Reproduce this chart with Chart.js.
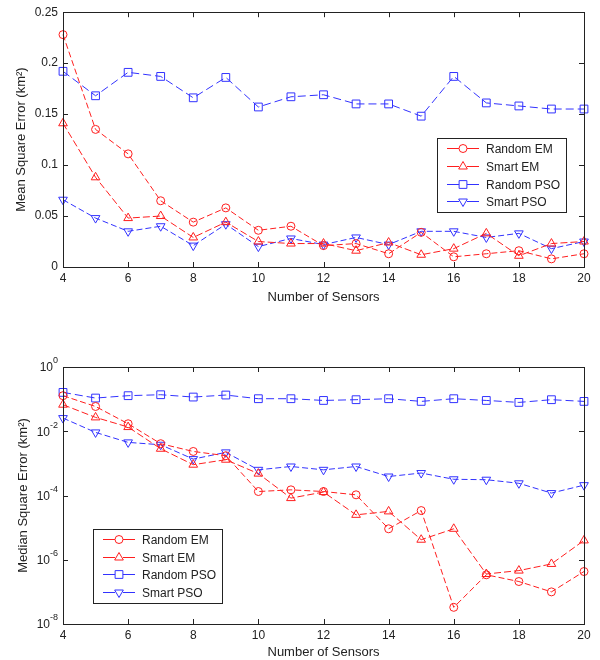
<!DOCTYPE html>
<html>
<head>
<meta charset="utf-8">
<script src="https://cdn.jsdelivr.net/npm/chart.js@4.4.0/dist/chart.umd.min.js"></script>
<style>
  body { margin: 0; background: #fff; }
  #wrap { position: relative; width: 600px; height: 660px; }
  canvas { position: absolute; left: 0; }
</style>
</head>
<body>
<div id="wrap">
  <canvas id="meanChart" width="600" height="305" style="top:0"></canvas>
  <canvas id="medianChart" width="600" height="355" style="top:305px"></canvas>
</div>
<script>
// number of sensors on the x axis
const sensors = [4, 5, 6, 7, 8, 9, 10, 11, 12, 13, 14, 15, 16, 17, 18, 19, 20];
const seriesNames = ['Random EM', 'Smart EM', 'Random PSO', 'Smart PSO'];

// top plot: mean square error (km^2)
const meanRandomEM  = [0.228, 0.135, 0.111, 0.065, 0.044, 0.058, 0.036, 0.040, 0.021, 0.023, 0.013, 0.034, 0.010, 0.013, 0.016, 0.008, 0.013];
const meanSmartEM   = [0.141, 0.088, 0.048, 0.050, 0.029, 0.044, 0.025, 0.023, 0.023, 0.016, 0.024, 0.012, 0.018, 0.033, 0.011, 0.023, 0.025];
const meanRandomPSO = [0.192, 0.168, 0.191, 0.187, 0.166, 0.186, 0.157, 0.167, 0.169, 0.160, 0.160, 0.148, 0.187, 0.161, 0.158, 0.155, 0.155];
const meanSmartPSO  = [0.066, 0.048, 0.035, 0.040, 0.021, 0.042, 0.020, 0.028, 0.022, 0.029, 0.022, 0.035, 0.035, 0.029, 0.033, 0.018, 0.025];

// bottom plot: median square error (km^2), log axis
const medRandomEM  = [0.128, 0.059, 0.0171, 0.0041, 0.00235, 0.00173, 1.33e-4, 1.5e-4, 1.33e-4, 1.05e-4, 9.2e-6, 3.4e-5, 3.3e-8, 3.4e-7, 2.1e-7, 1.0e-7, 4.3e-7];
const medSmartEM   = [0.067, 0.027, 0.0135, 0.00285, 9.1e-4, 1.3e-3, 4.8e-4, 8.3e-5, 1.28e-4, 2.5e-5, 3.2e-5, 4.2e-6, 9.2e-6, 3.6e-7, 4.6e-7, 7.4e-7, 4.0e-6];
const medRandomPSO = [0.162, 0.108, 0.128, 0.137, 0.116, 0.134, 0.103, 0.103, 0.091, 0.096, 0.103, 0.085, 0.103, 0.091, 0.079, 0.096, 0.085];
const medSmartPSO  = [0.0257, 0.0092, 0.0045, 0.0038, 0.00136, 0.0022, 6.3e-4, 8.0e-4, 6.3e-4, 8.0e-4, 3.9e-4, 5.0e-4, 3.2e-4, 3.1e-4, 2.4e-4, 1.19e-4, 2.1e-4];

// tick labels
const xTicks = [4, 6, 8, 10, 12, 14, 16, 18, 20];
const meanTicks = [0, 0.05, 0.1, 0.15, 0.2, 0.25];
const meanTickLabels = ['0', '0.05', '0.1', '0.15', '0.2', '0.25'];
const medianExponents = [0, -2, -4, -6, -8];

const RED = 'rgb(255,30,30)';
const BLUE = 'rgb(50,50,255)';
const FONT = 'Liberation Sans, Arial, sans-serif';
const TEXT = '#222';

const styles = [
  { color: RED,  pointStyle: 'circle',   radius: 4,   rotation: 0,   dash: [6, 3] },
  { color: RED,  pointStyle: 'triangle', radius: 5,   rotation: 0,   dash: [7, 3] },
  { color: BLUE, pointStyle: 'rect',     radius: 5.5, rotation: 0,   dash: [8, 4] },
  { color: BLUE, pointStyle: 'triangle', radius: 5,   rotation: 180, dash: [6, 3] }
];

function makeDatasets(seriesList) {
  return seriesList.map((vals, i) => ({
    label: seriesNames[i],
    data: vals.map((v, k) => ({ x: sensors[k], y: v })),
    borderColor: styles[i].color,
    borderWidth: 1,
    borderDash: styles[i].dash,
    pointStyle: styles[i].pointStyle,
    pointRadius: styles[i].radius,
    pointRotation: styles[i].rotation,
    pointBorderColor: styles[i].color,
    pointBackgroundColor: 'rgba(0,0,0,0)',
    pointBorderWidth: 1,
    tension: 0,
    clip: false
  }));
}

function drawMarker(ctx, st, x, y) {
  if (Chart.helpers && Chart.helpers.drawPoint) {
    Chart.helpers.drawPoint(ctx, { pointStyle: st.pointStyle, rotation: st.rotation, radius: st.radius, borderWidth: 1 }, x, y);
  } else {
    ctx.beginPath();
    ctx.arc(x, y, st.radius, 0, Math.PI * 2);
    ctx.stroke();
  }
}

// MATLAB-like box, inward ticks and boxed legend
const matlabFrame = {
  id: 'matlabFrame',
  afterDatasetsDraw(chart, args, opts) {
    const { ctx, chartArea: a, scales: { x, y } } = chart;
    ctx.save();
    ctx.strokeStyle = '#222';
    ctx.lineWidth = 1;
    ctx.setLineDash([]);
    ctx.strokeRect(Math.round(a.left) + 0.5, Math.round(a.top) + 0.5, Math.round(a.right - a.left), Math.round(a.bottom - a.top));
    ctx.beginPath();
    x.ticks.forEach(t => {
      const px = Math.round(x.getPixelForValue(t.value)) + 0.5;
      ctx.moveTo(px, a.bottom); ctx.lineTo(px, a.bottom - 5);
      ctx.moveTo(px, a.top); ctx.lineTo(px, a.top + 5);
    });
    y.ticks.forEach(t => {
      const py = Math.round(y.getPixelForValue(t.value)) + 0.5;
      ctx.moveTo(a.left, py); ctx.lineTo(a.left + 5, py);
      ctx.moveTo(a.right, py); ctx.lineTo(a.right - 5, py);
    });
    ctx.stroke();

    // log axis labels: 10 with raised exponent
    if (opts.logLabels) {
      ctx.fillStyle = TEXT;
      ctx.textBaseline = 'middle';
      medianExponents.forEach(e => {
        const py = y.getPixelForValue(Math.pow(10, e));
        ctx.font = '9px ' + FONT;
        const exp = String(e);
        const ew = ctx.measureText(exp).width;
        ctx.textAlign = 'left';
        ctx.fillText(exp, a.left - 5 - ew, py - 6);
        ctx.font = '12px ' + FONT;
        ctx.textAlign = 'right';
        ctx.fillText('10', a.left - 5 - ew, py + 1);
      });
    }

    // legend
    const lg = opts.legend;
    const bx = lg.fromRight ? a.right - lg.dx : a.left + lg.dx;
    const by = a.top + lg.dy;
    ctx.fillStyle = '#fff';
    ctx.fillRect(bx, by, 129, 74);
    ctx.strokeStyle = '#222';
    ctx.strokeRect(Math.round(bx) + 0.5, Math.round(by) + 0.5, 129, 74);
    chart.data.datasets.forEach((ds, i) => {
      const st = styles[i];
      const ry = Math.round(by + 10 + i * 17.7) + 0.5;
      ctx.strokeStyle = st.color;
      ctx.lineWidth = 1;
      ctx.setLineDash([]);
      ctx.beginPath();
      ctx.moveTo(bx + 10, ry); ctx.lineTo(bx + 22, ry);
      ctx.moveTo(bx + 30, ry); ctx.lineTo(bx + 42, ry);
      ctx.stroke();
      ctx.fillStyle = 'rgba(0,0,0,0)';
      drawMarker(ctx, st, bx + 26, ry);
      ctx.fillStyle = TEXT;
      ctx.font = '12px ' + FONT;
      ctx.textAlign = 'left';
      ctx.textBaseline = 'middle';
      ctx.fillText(ds.label, bx + 49, ry + 1);
    });
    ctx.restore();
  }
};

function xAxis(height) {
  return {
    type: 'linear',
    min: 4, max: 20,
    afterBuildTicks: s => { s.ticks = xTicks.map(v => ({ value: v })); },
    afterFit: s => { s.height = height; },
    grid: { display: false, drawTicks: false },
    border: { display: false },
    ticks: { color: TEXT, font: { family: FONT, size: 12 }, padding: 4, maxRotation: 0 },
    title: { display: true, text: 'Number of Sensors', color: TEXT, font: { family: FONT, size: 13 }, padding: { top: 0, bottom: 0 } }
  };
}

// top chart
new Chart(document.getElementById('meanChart'), {
  type: 'line',
  data: { datasets: makeDatasets([meanRandomEM, meanSmartEM, meanRandomPSO, meanSmartPSO]) },
  options: {
    responsive: false,
    animation: false,
    layout: { padding: { top: 10, right: 16, left: 0, bottom: 0 } },
    plugins: {
      legend: { display: false },
      tooltip: { enabled: false },
      matlabFrame: { legend: { fromRight: true, dx: 147, dy: 126 } }
    },
    scales: {
      x: xAxis(38),
      y: {
        min: 0, max: 0.25,
        afterBuildTicks: s => { s.ticks = meanTicks.map(v => ({ value: v })); },
        afterFit: s => { s.width = 63; },
        grid: { display: false, drawTicks: false },
        border: { display: false },
        ticks: {
          color: TEXT, font: { family: FONT, size: 12 }, padding: 5,
          callback: (v, i) => meanTickLabels[i]
        },
        title: { display: true, text: 'Mean Square Error (km²)', color: TEXT, font: { family: FONT, size: 13 }, padding: { top: 14, bottom: 0 } }
      }
    }
  },
  plugins: [matlabFrame]
});

// bottom chart
new Chart(document.getElementById('medianChart'), {
  type: 'line',
  data: { datasets: makeDatasets([medRandomEM, medSmartEM, medRandomPSO, medSmartPSO]) },
  options: {
    responsive: false,
    animation: false,
    layout: { padding: { top: 62, right: 16, left: 0, bottom: 0 } },
    plugins: {
      legend: { display: false },
      tooltip: { enabled: false },
      matlabFrame: { logLabels: true, legend: { fromRight: false, dx: 30, dy: 162 } }
    },
    scales: {
      x: xAxis(36),
      y: {
        type: 'logarithmic',
        min: 1e-8, max: 1,
        afterBuildTicks: s => { s.ticks = medianExponents.map(e => ({ value: Math.pow(10, e) })); },
        afterFit: s => { s.width = 63; },
        grid: { display: false, drawTicks: false },
        border: { display: false },
        ticks: { display: false },
        title: { display: true, text: 'Median Square Error (km²)', color: TEXT, font: { family: FONT, size: 13 }, padding: { top: 16, bottom: 0 } }
      }
    }
  },
  plugins: [matlabFrame]
});
</script>
</body>
</html>
